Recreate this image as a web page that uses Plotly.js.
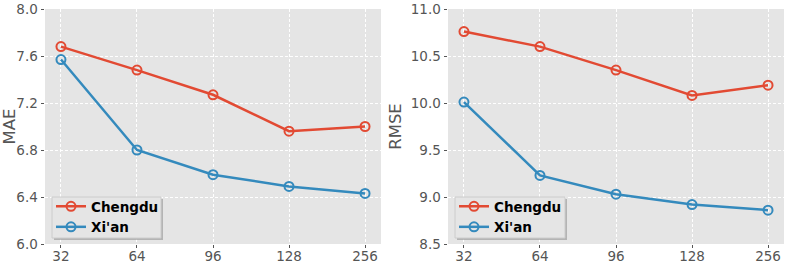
<!DOCTYPE html>
<html>
<head>
<meta charset="utf-8">
<script src="https://cdn.plot.ly/plotly-3.0.1.min.js"></script>
<style>html,body{margin:0;padding:0;background:#fff;}#chart{width:789px;height:265px;}</style>
</head>
<body>
<div id="chart"></div>
<script>
const categories = ["32", "64", "96", "128", "256"];
const maeChengdu = [7.68, 7.48, 7.27, 6.96, 7.00];
const maeXian = [7.57, 6.80, 6.59, 6.49, 6.43];
const rmseChengdu = [10.76, 10.60, 10.35, 10.08, 10.19];
const rmseXian = [10.01, 9.23, 9.03, 8.92, 8.86];
const maeTicks = [6.0, 6.4, 6.8, 7.2, 7.6, 8.0];
const rmseTicks = [8.5, 9.0, 9.5, 10.0, 10.5, 11.0];

const red = "#E24A33", blue = "#348ABD";
function tr(y, name, color, xa, ya, show) {
  return {
    x: categories, y: y, name: name, xaxis: xa, yaxis: ya, showlegend: show,
    type: "scatter", mode: "lines+markers",
    line: {color: color, width: 2.5},
    marker: {symbol: "circle-open", size: 9, color: color, line: {width: 2, color: color}},
    legend: xa === "x" ? "legend" : "legend2"
  };
}
const data = [
  tr(maeChengdu, "Chengdu", red, "x", "y", true),
  tr(maeXian, "Xi'an", blue, "x", "y", true),
  tr(rmseChengdu, "Chengdu", red, "x2", "y2", true),
  tr(rmseXian, "Xi'an", blue, "x2", "y2", true)
];
const tickFont = {family: "DejaVu Sans", size: 13.5, color: "#555555"};
function xax(domain, anchor) {
  return {domain: domain, anchor: anchor, type: "category", range: [-0.21, 4.21],
    showgrid: true, gridcolor: "#ffffff", gridwidth: 1, griddash: "3px,2px",
    ticks: "outside", ticklen: 3, tickcolor: "#555555", tickwidth: 1,
    ticklabelstandoff: -3,
    tickfont: tickFont, zeroline: false, showline: false, fixedrange: true};
}
function yax(domain, anchor, range, ticks, title) {
  return {domain: domain, anchor: anchor, range: range, tickvals: ticks,
    ticktext: ticks.map(v => v.toFixed(1)),
    showgrid: true, gridcolor: "#ffffff", gridwidth: 1, griddash: "3px,2px",
    ticks: "outside", ticklen: 3.5, tickcolor: "#555555", tickwidth: 1,
    tickfont: tickFont, zeroline: false, showline: false,
    title: {text: title, font: {family: "DejaVu Sans", size: 16.5, color: "#555555"}, standoff: 4}};
}
const yd = [1 - 244/265, 1 - 9/265];
const legFont = {family: "DejaVu Sans", size: 13.5, color: "#000000", weight: "bold"};
function box(x0, x1, y0, y1) {
  const W = 789, H = 265;
  return [
    {type: "rect", xref: "paper", yref: "paper", x0: (x0 + 2)/W, x1: (x1 + 2)/W, y0: 1 - (y1 + 2)/H, y1: 1 - (y0 + 2)/H,
      fillcolor: "#a0a0a0", line: {width: 0}, layer: "above", opacity: 0.7},
    {type: "rect", xref: "paper", yref: "paper", x0: x0/W, x1: x1/W, y0: 1 - y1/H, y1: 1 - y0/H,
      fillcolor: "#E5E5E5", line: {width: 1, color: "#cccccc"}, layer: "above"}
  ];
}
const layout = {
  width: 789, height: 265,
  margin: {l: 0, r: 0, t: 0, b: 0},
  paper_bgcolor: "#ffffff", plot_bgcolor: "#E5E5E5",
  xaxis: xax([45/789, 381/789], "y"),
  yaxis: yax(yd, "x", [6.0, 8.0], maeTicks, "MAE"),
  xaxis2: xax([448/789, 784/789], "y2"),
  yaxis2: yax(yd, "x2", [8.5, 11.0], rmseTicks, "RMSE"),
  legend: {x: 51/789, y: 1 - 191/265, xanchor: "left", yanchor: "top",
    bgcolor: "rgba(0,0,0,0)", borderwidth: 0, font: legFont,
    tracegroupgap: 0, itemwidth: 30},
  legend2: {x: 454/789, y: 1 - 191/265, xanchor: "left", yanchor: "top",
    bgcolor: "rgba(0,0,0,0)", borderwidth: 0, font: legFont,
    tracegroupgap: 0, itemwidth: 30},
  shapes: box(52, 161, 197, 238).concat(box(455, 565, 197, 238))
};
Plotly.newPlot("chart", data, layout, {displayModeBar: false, staticPlot: true});
</script>
</body>
</html>
